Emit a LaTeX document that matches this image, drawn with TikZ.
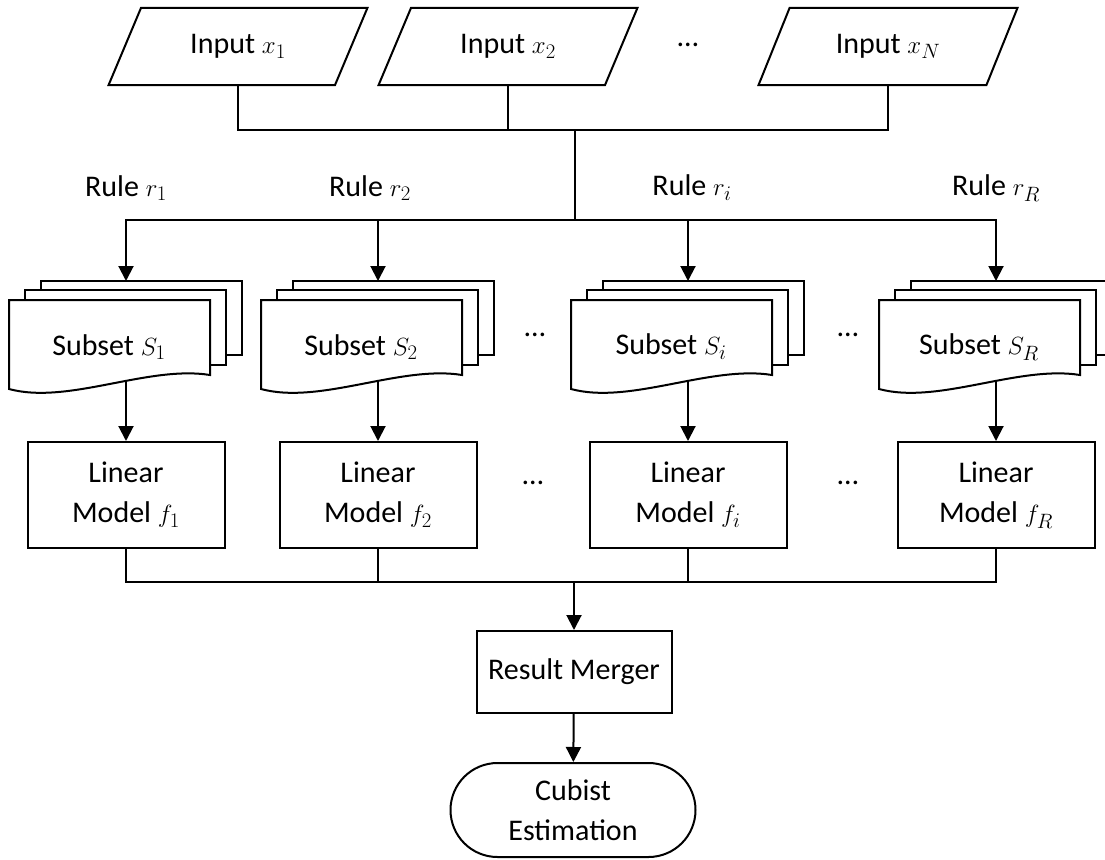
\documentclass[tikz,border=0pt]{standalone}
\usepackage{fontspec}
\setmainfont{Carlito}
\usepackage{amsmath}
\usetikzlibrary{shapes.geometric,arrows.meta}

\begin{document}
\begin{tikzpicture}[x=1pt,y=-1pt,line width=2pt,font=\fontsize{30}{40}\selectfont]
\tikzstyle{every node}=[inner sep=0pt]
\tikzstyle{io}=[draw,shape=trapezium,trapezium left angle=56.5,trapezium right angle=123.5,trapezium stretches=true,minimum width=259pt,minimum height=77pt]
\tikzstyle{model}=[draw,align=center,minimum width=197pt,minimum height=106pt]
\tikzstyle{doc}=[draw,fill=white]
\tikzstyle{flow}=[-{Triangle[length=15pt,width=15pt]}]
\useasboundingbox (0,0) rectangle (1105,859);

\node[io] (in1) at (238,46.5) {Input $x_1$};
\node[io] (in2) at (508,46.5) {Input $x_2$};
\node (dots0) at (688,45) {…};
\node[io] (inN) at (888,46.5) {Input $x_N$};
\coordinate (top) at (575,130);
\coordinate (split) at (575,220);
\draw (in1.south) |- (top) -| (inN.south);
\draw (in2.south) -- (in2.south |- top);
\draw (top) -- (split);

\node (r1) at (126,188) {Rule $r_1$};
\node (r2) at (370,188) {Rule $r_2$};
\node (ri) at (692,188) {Rule $r_i$};
\node (rR) at (996,188) {Rule $r_R$};

\draw[doc] (41,281) rectangle (242,355);
\draw[doc] (25,290) rectangle (226,365);
\draw[doc] (9,300) -- (210,300) -- (210,375) .. controls (148,365) and (68,405) .. (9,389) -- cycle;
\draw[doc] (293,281) rectangle (494,355);
\draw[doc] (277,290) rectangle (478,365);
\draw[doc] (261,300) -- (462,300) -- (462,375) .. controls (400,365) and (320,405) .. (261,389) -- cycle;
\draw[doc] (603,281) rectangle (804,355);
\draw[doc] (587,290) rectangle (788,365);
\draw[doc] (571,300) -- (772,300) -- (772,375) .. controls (710,365) and (630,405) .. (571,389) -- cycle;
\draw[doc] (911,281) rectangle (1112,355);
\draw[doc] (895,290) rectangle (1096,365);
\draw[doc] (879,300) -- (1080,300) -- (1080,375) .. controls (1018,365) and (938,405) .. (879,389) -- cycle;

\node (s1) at (109,347) {Subset $S_1$};
\node (s2) at (361,347) {Subset $S_2$};
\node (si) at (671,347) {Subset $S_i$};
\node (sR) at (979,347) {Subset $S_R$};
\node (dots1) at (535,335) {…};
\node (dots2) at (848,335) {…};

\coordinate (t1) at (126,281);
\coordinate (t2) at (378,281);
\coordinate (ti) at (688,281);
\coordinate (tR) at (996,281);
\draw[flow] (split) -| (t1);
\draw[flow] (split) -| (t2);
\draw[flow] (split) -| (ti);
\draw[flow] (split) -| (tR);

\node[model] (f1) at (126,495) {Linear\\Model $f_1$};
\node[model] (f2) at (378,495) {Linear\\Model $f_2$};
\node[model] (fi) at (688,495) {Linear\\Model $f_i$};
\node[model] (fR) at (996,495) {Linear\\Model $f_R$};
\node (dots3) at (533,483) {…};
\node (dots4) at (848,483) {…};

\coordinate (w1) at (126,381);
\coordinate (w2) at (378,381);
\coordinate (wi) at (688,381);
\coordinate (wR) at (996,381);
\draw[flow] (w1) -- (f1);
\draw[flow] (w2) -- (f2);
\draw[flow] (wi) -- (fi);
\draw[flow] (wR) -- (fR);

\node[draw,minimum width=195pt,minimum height=82pt] (merge) at (574,672) {Result Merger};
\node[draw,align=center,minimum width=245pt,minimum height=94pt,rounded corners=47pt] (est) at (573,810) {Cubist\\Estimation};

\coordinate (join) at (574,582);
\draw (f1.south) |- (join);
\draw (f2.south) |- (join);
\draw (fi.south) |- (join);
\draw (fR.south) |- (join);
\draw[flow] (join) -- (merge);
\draw[flow] (merge) -- (est);
\end{tikzpicture}
\end{document}
